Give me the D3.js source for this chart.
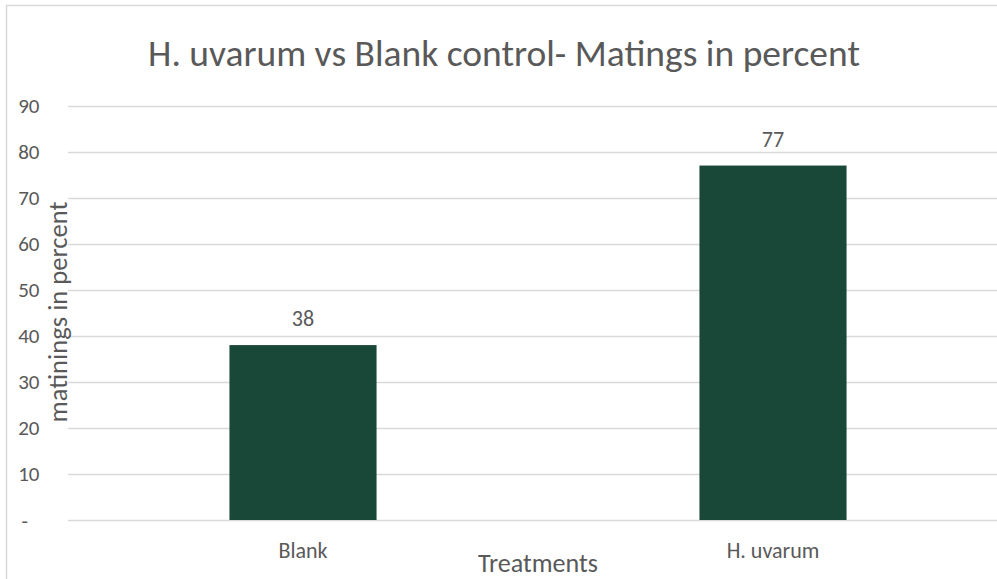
<!DOCTYPE html>
<html>
<head>
<meta charset="utf-8">
<script src="https://cdn.jsdelivr.net/npm/d3@7"></script>
<style>
  html, body { margin: 0; padding: 0; background: #fff; }
  svg { display: block; }
  text { font-family: Carlito, Calibri, Lato, "Open Sans", sans-serif; fill: #595959; }
</style>
</head>
<body>
<svg id="chart" width="997" height="579"></svg>
<script>
// Chart data
const categories = ["Blank", "H. uvarum"];
const matings = [38, 77];
const yTicks = [0, 10, 20, 30, 40, 50, 60, 70, 80, 90];
const titleText = "H. uvarum vs Blank control- Matings in percent";
const xTitle = "Treatments";
const yTitle = "matinings in percent";

const svg = d3.select("#chart");
const W = 997, H = 579;

// Outer chart frame
svg.append("rect")
  .attr("x", 6.5).attr("y", 5.5)
  .attr("width", W + 20).attr("height", H + 20)
  .attr("fill", "#fff").attr("stroke", "#d9d9d9").attr("stroke-width", 1.5);

const plot = { left: 68, right: 1008, top: 105.7, bottom: 520 };

const x = d3.scaleBand()
  .domain(categories)
  .range([plot.left, plot.right])
  .paddingInner(0.687)
  .paddingOuter(0.687 / 2);

const y = d3.scaleLinear()
  .domain([0, 90])
  .range([plot.bottom, plot.top]);

// Scale a text element's font so it spans a given width
function fitWidth(sel, target) {
  const node = sel.node();
  const fs = parseFloat(sel.attr("font-size"));
  const w = node.getComputedTextLength();
  sel.attr("font-size", fs * target / w);
}

// Gridlines
svg.append("g")
  .selectAll("line")
  .data(yTicks)
  .join("line")
  .attr("x1", plot.left).attr("x2", W)
  .attr("y1", d => Math.round(y(d)) + 0.5)
  .attr("y2", d => Math.round(y(d)) + 0.5)
  .attr("stroke", "#d9d9d9").attr("stroke-width", 1.5);

// Y tick labels
svg.append("g")
  .selectAll("text")
  .data(yTicks)
  .join("text")
  .attr("x", d => d === 0 ? 28 : 39.5)
  .attr("y", d => y(d) + 7.5)
  .attr("text-anchor", "end")
  .attr("font-size", 21)
  .text(d => d === 0 ? "-" : d3.format("d")(d));

// Bars
svg.append("g")
  .selectAll("rect")
  .data(categories)
  .join("rect")
  .attr("x", d => x(d))
  .attr("width", x.bandwidth())
  .attr("y", (d, i) => y(matings[i]))
  .attr("height", (d, i) => y(0) - y(matings[i]))
  .attr("fill", "#194838");

// Value labels
svg.append("g")
  .selectAll("text")
  .data(categories)
  .join("text")
  .attr("x", d => x(d) + x.bandwidth() / 2)
  .attr("y", (d, i) => y(matings[i]) - 19)
  .attr("text-anchor", "middle")
  .attr("font-size", 22)
  .text((d, i) => matings[i]);

// Category labels
svg.append("g")
  .selectAll("text")
  .data(categories)
  .join("text")
  .attr("x", d => x(d) + x.bandwidth() / 2)
  .attr("y", 558)
  .attr("text-anchor", "middle")
  .attr("font-size", 22)
  .text(d => d);

// Title
const t = svg.append("text")
  .attr("x", 504).attr("y", 66)
  .attr("text-anchor", "middle")
  .attr("font-size", 32)
  .text(titleText);
fitWidth(t, 712);

// X axis title
const xt = svg.append("text")
  .attr("x", 538).attr("y", 572)
  .attr("text-anchor", "middle")
  .attr("font-size", 22)
  .text(xTitle);
fitWidth(xt, 120);

// Y axis title
const yt = svg.append("text")
  .attr("transform", "translate(67,312) rotate(-90)")
  .attr("text-anchor", "middle")
  .attr("font-size", 22)
  .text(yTitle);
fitWidth(yt, 221);
</script>
</body>
</html>
